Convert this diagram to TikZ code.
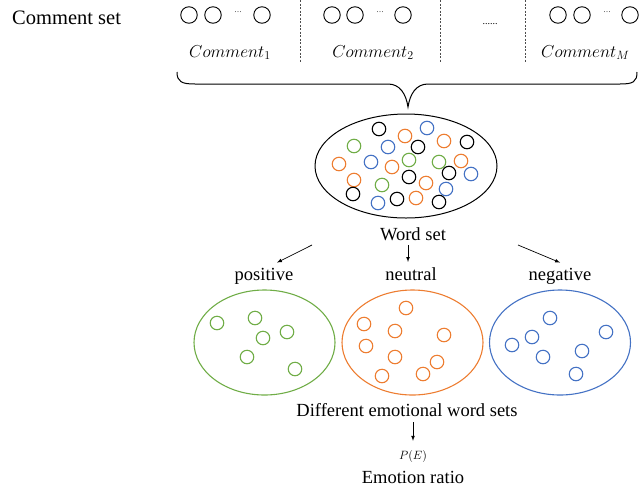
\documentclass[tikz,border=0pt]{standalone}
\usepackage{fontspec}
\setmainfont{Liberation Serif}
\usetikzlibrary{positioning, arrows, shapes.geometric}
\definecolor{posgreen}{RGB}{112,173,71}
\definecolor{neuorange}{RGB}{237,125,49}
\definecolor{negblue}{RGB}{68,114,196}
\tikzset{
  lbl/.style={inner sep=0, anchor=base, font=\fontsize{18.5}{22}\selectfont},
  cmt/.style={inner sep=0, anchor=base, font=\fontsize{17.5}{20}\selectfont},
  tok/.style={draw, circle, minimum size=16.5pt, inner sep=0, line width=0.9pt},
  word/.style={draw=#1, circle, minimum size=13.5pt, inner sep=0, line width=1.1pt},
  emoset/.style={draw=#1, ellipse, minimum width=141pt, minimum height=105pt, line width=1.1pt},
  arr/.style={-latex, line width=0.7pt},
  sep/.style={dash pattern=on 2pt off 1.5pt, line width=0.5pt, black!70}
}

\begin{document}
\begin{tikzpicture}[x=1pt, y=-1pt]
    \useasboundingbox (0,0) rectangle (639,491);

    % comment set
    \node[inner sep=0, anchor=base west, font=\fontsize{20.5}{24}\selectfont] (cset) at (12,24) {Comment set};
    \foreach \cx [count=\i] in {189,213,262,332,355,403,558,582,630}
      \node[tok] (t\i) at (\cx,15) {};
    \foreach \cx [count=\i] in {238,380,607}
      \node[inner sep=0, font=\fontsize{7.5}{8}\selectfont] (d\i) at (\cx,12) {\dots};
    \node[inner sep=0, anchor=base, font=\fontsize{10}{12}\selectfont] (more) at (490,24) {......};
    \draw[sep] (300,0) -- (300,62);
    \draw[sep] (440,0) -- (440,62);
    \draw[sep] (525,0) -- (525,62);
    \node[cmt] (c1) at (230,57) {$Comment_1$};
    \node[cmt] (c2) at (373,57) {$Comment_2$};
    \node[cmt, anchor=base west] (cM) at (541,57) {$Comment_M$};

    % brace
    \draw[line width=1pt] (177,72) .. controls (177,82) and (182,84) .. (195,84) -- (388,84)
      .. controls (400,84) and (406,94) .. (408,107)
      .. controls (410,94) and (416,84) .. (428,84) -- (620,84)
      .. controls (633,84) and (637,82) .. (637,72);

    % word set
    \node[draw, ellipse, minimum width=182pt, minimum height=104pt, line width=1pt] (wset) at (406,166) {};
    \foreach \c/\px/\py [count=\i] in {black/379/129, neuorange/405/136, negblue/427/128,
        posgreen/354/146, negblue/388/147, black/418/147, neuorange/444/141, black/467/142,
        neuorange/339/164, negblue/371/162, neuorange/392/167, posgreen/409/160,
        posgreen/439/162, neuorange/461/161, black/449/173, negblue/471/174,
        neuorange/354/180, black/409/177, posgreen/382/185, neuorange/426/183,
        negblue/446/189, black/353/194, negblue/378/203, black/397/199,
        neuorange/416/198, black/439/202}
      \node[word=\c] (w\i) at (\px,\py) {};
    \node[lbl] (wlbl) at (413,240) {Word set};

    % emotion labels
    \node[lbl] (pos) at (264,280) {positive};
    \node[lbl] (neu) at (411,280) {neutral};
    \node[lbl] (neg) at (560,280) {negative};

    \coordinate (fromL) at (312,245);
    \coordinate (fromM) at (408,245);
    \coordinate (fromR) at (518,245);
    \draw[arr] (fromL) -- ([xshift=13pt,yshift=5pt]pos.north);
    \draw[arr] (fromM) -- ([xshift=-3pt,yshift=5pt]neu.north);
    \draw[arr] (fromR) -- ([yshift=5pt]neg.north);

    % emotional word sets
    \node[emoset=posgreen] (posset) at (264.5,342.5) {};
    \node[emoset=neuorange] (neuset) at (412.5,342.5) {};
    \node[emoset=negblue] (negset) at (560,342.5) {};
    \foreach \px/\py [count=\i] in {217/323, 255/318, 287/332, 263/338, 247/357, 295/369}
      \node[word=posgreen] (p\i) at (\px,\py) {};
    \foreach \px/\py [count=\i] in {406/308, 364/324, 395/331, 444/335, 366/346,
        395/357, 437/362, 382/376, 423/374}
      \node[word=neuorange] (n\i) at (\px,\py) {};
    \foreach \px/\py [count=\i] in {550/318, 532/337, 606/332, 512/345, 582/351,
        543/357, 576/374}
      \node[word=negblue] (g\i) at (\px,\py) {};

    % ratio
    \node[lbl] (diff) at (407,416) {Different emotional word sets};
    \node[inner sep=0, font=\fontsize{13}{15}\selectfont] (pe) at (413,456) {$P(E)$};
    \node[lbl] (ratio) at (413,483) {Emotion ratio};
    \draw[arr] (diff.south -| pe.north) ++(0,6) -- ([yshift=9pt]pe.north);
\end{tikzpicture}
\end{document}
